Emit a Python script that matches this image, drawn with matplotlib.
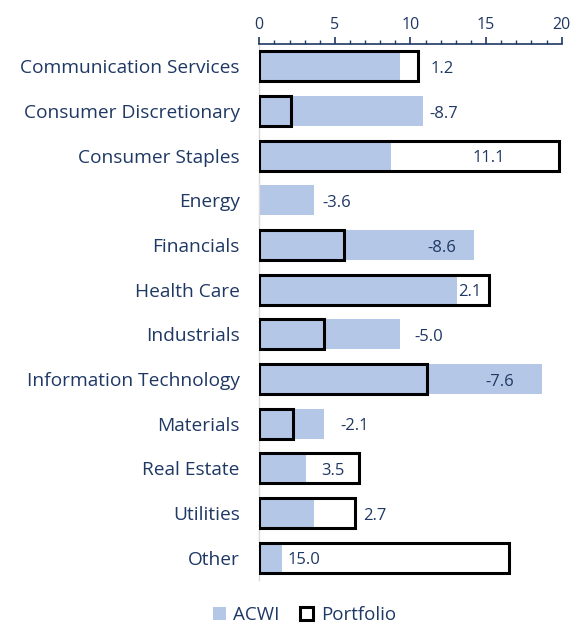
import matplotlib.pyplot as plt
from matplotlib.patches import Patch
import numpy as np

sectors = ['Communication Services', 'Consumer Discretionary', 'Consumer Staples',
           'Energy', 'Financials', 'Health Care', 'Industrials',
           'Information Technology', 'Materials', 'Real Estate', 'Utilities', 'Other']
acwi = [9.3, 10.8, 8.7, 3.6, 14.2, 13.1, 9.3, 18.7, 4.3, 3.1, 3.6, 1.5]
portfolio = [10.5, 2.1, 19.8, 0.0, 5.6, 15.2, 4.3, 11.1, 2.2, 6.6, 6.3, 16.5]
diff_labels = ['1.2', '-8.7', '11.1', '-3.6', '-8.6', '2.1', '-5.0', '-7.6',
               '-2.1', '3.5', '2.7', '15.0']
# where each difference label sits along the x axis
label_x = [12.1, 12.2, 15.2, 5.1, 12.1, 13.9, 11.2, 15.9, 6.3, 4.85, 7.65, 2.95]

navy = '#1F3864'
blue = '#B4C7E7'
plt.rcParams['font.family'] = ['Open Sans', 'DejaVu Sans']

fig = plt.figure(figsize=(5.72, 6.26), dpi=100)
ax = fig.add_axes([0.4533, 0.0735, 0.5287, 0.8562])

y = np.arange(len(sectors))
ax.barh(y, acwi, height=0.67, color=blue, zorder=2)
port_bars = ax.barh(y, portfolio, height=0.67, facecolor='none', edgecolor='black',
                    linewidth=2.2, zorder=3)
# no outline for zero-width bars
for b, v in zip(port_bars, portfolio):
    if v == 0:
        b.set_visible(False)

for yi, lx, lab in zip(y, label_x, diff_labels):
    ax.text(lx, yi + 0.06, lab, ha='center', va='center', fontsize=12, color=navy, zorder=4)

ax.set_xlim(0, 20)
ax.set_ylim(len(sectors) - 0.5, -0.5)
ax.set_yticks(y)
ax.set_yticklabels(sectors, fontsize=13.8, color=navy)
ax.tick_params(axis='y', length=0, pad=14)

ax.xaxis.tick_top()
ax.set_xticks([0, 5, 10, 15, 20])
ax.set_xticks(np.arange(0, 21, 1), minor=True)
ax.tick_params(axis='x', which='major', length=5, width=1.2, color=navy,
               labelsize=11.5, labelcolor=navy, pad=3)
ax.tick_params(axis='x', which='minor', length=3, width=1.0, color=navy)

for s in ['right', 'bottom']:
    ax.spines[s].set_visible(False)
ax.spines['top'].set_color(navy)
ax.spines['top'].set_linewidth(1.2)
ax.spines['left'].set_color('#D9D9D9')
ax.spines['left'].set_linewidth(1.0)

handles = [Patch(facecolor=blue, edgecolor='none', label='ACWI'),
           Patch(facecolor='white', edgecolor='black', linewidth=2.2, label='Portfolio')]
leg = fig.legend(handles=handles, loc='center', bbox_to_anchor=(0.532, 0.018), ncol=2,
                 frameon=False, fontsize=13.5, handlelength=0.7, handleheight=0.7,
                 handletextpad=0.4, columnspacing=1.1)
for t in leg.get_texts():
    t.set_color(navy)

fig.savefig('out.png', dpi=100)
